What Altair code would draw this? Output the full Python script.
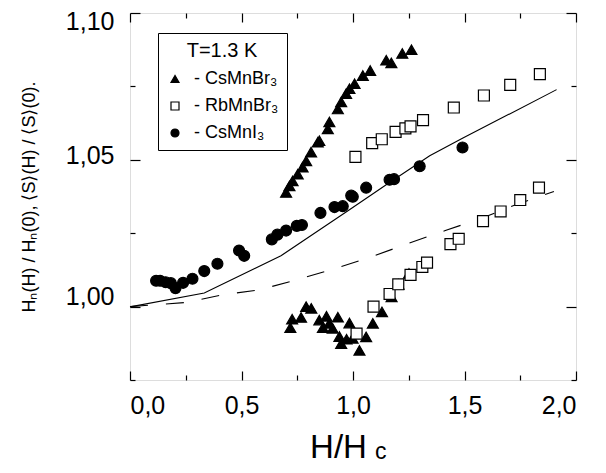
import altair as alt
import pandas as pd

FONT = "Liberation Sans"
W, H = 446, 367

series_names = ["CsMnBr₃", "RbMnBr₃", "CsMnI₃"]

# CsMnBr3 (upper branch + lower branch)
csbr_x = [0.700, 0.715, 0.729, 0.752, 0.774, 0.790, 0.812, 0.842, 0.849, 0.887, 0.894,
          0.932, 0.947, 0.969, 0.984, 1.007, 1.044, 1.077, 1.149, 1.172, 1.221, 1.262,
          0.719, 0.727, 0.767, 0.790, 0.813, 0.849, 0.865, 0.881, 0.894, 0.909, 0.932,
          0.939, 0.947, 0.971, 0.984, 0.998, 1.029, 1.059, 1.089, 1.130, 1.173, 1.204, 1.251]
csbr_y = [1.0389, 1.0411, 1.0428, 1.0451, 1.0475, 1.0496, 1.0526, 1.0560, 1.0565, 1.0605, 1.0629,
          1.0673, 1.0697, 1.0725, 1.0742, 1.0759, 1.0787, 1.0804, 1.0839, 1.0830, 1.0862, 1.0875,
          0.9928, 0.9957, 0.9963, 1.0000, 0.9994, 0.9954, 0.9928, 0.9967, 0.9943, 0.9926, 0.9964,
          0.9898, 0.9874, 0.9889, 0.9944, 0.9892, 0.9851, 0.9897, 0.9943, 0.9982, 1.0033, 1.0076, 1.0113]

# RbMnBr3 (upper branch + lower branch)
rbbr_x = [1.011, 1.086, 1.129, 1.191, 1.235, 1.258, 1.314, 1.452, 1.587, 1.705, 1.838,
          1.016, 1.092, 1.164, 1.203, 1.258, 1.311, 1.332, 1.437, 1.474, 1.583, 1.662, 1.750, 1.834]
rbbr_y = [1.0510, 1.0557, 1.0570, 1.0595, 1.0607, 1.0614, 1.0635, 1.0678, 1.0719, 1.0755, 1.0792,
          0.9908, 1.0000, 1.0043, 1.0076, 1.0108, 1.0135, 1.0150, 1.0213, 1.0231, 1.0291, 1.0324, 1.0363, 1.0405]

# CsMnI3
csi_x = [0.117, 0.135, 0.160, 0.183, 0.204, 0.238, 0.280, 0.333, 0.392, 0.489, 0.512, 0.636, 0.661,
         0.700, 0.748, 0.771, 0.854, 0.917, 0.954, 0.992, 0.999, 1.059, 1.164, 1.184, 1.299, 1.491]
csi_y = [1.0088, 1.0088, 1.0083, 1.0080, 1.0063, 1.0081, 1.0095, 1.0121, 1.0146, 1.0191, 1.0173, 1.0229, 1.0245,
         1.0259, 1.0275, 1.0278, 1.0319, 1.0339, 1.0342, 1.0378, 1.0374, 1.0405, 1.0432, 1.0434, 1.0478, 1.0542]

# theory curves
solid_x = [0.0, 0.333, 0.677, 0.939, 0.984, 1.149, 1.344, 1.493, 1.913]
solid_y = [0.9999, 1.0046, 1.0173, 1.0307, 1.0330, 1.0415, 1.0514, 1.0574, 1.0739]
dash_x = [0.0, 0.25, 0.415, 0.58, 0.76, 0.925, 1.088, 1.251, 1.414, 1.576, 1.741, 1.901]
dash_y = [1.0000, 1.0014, 1.0040, 1.0057, 1.0094, 1.0131, 1.0171, 1.0216, 1.0259, 1.0301, 1.0350, 1.0392]

x_major = [0.0, 0.5, 1.0, 1.5, 2.0]
x_ticks = [0.0, 0.25, 0.5, 0.75, 1.0, 1.25, 1.5, 1.75, 2.0]
y_major = [1.00, 1.05, 1.10]
y_ticks = [0.975, 1.0, 1.025, 1.05, 1.075, 1.10]

pts = pd.DataFrame({
    "x": csbr_x + rbbr_x + csi_x,
    "y": csbr_y + rbbr_y + csi_y,
    "series": [series_names[0]] * len(csbr_x) + [series_names[1]] * len(rbbr_x) + [series_names[2]] * len(csi_x),
})
solid_df = pd.DataFrame({"x": solid_x, "y": solid_y})
dash_df = pd.DataFrame({"x": dash_x, "y": dash_y})

xs = alt.Scale(domain=[0, 2], nice=False, zero=False)
ys = alt.Scale(domain=[0.975, 1.10], nice=False, zero=False)

x_tsize = {"condition": {"test": "round(datum.value*4) % 2 == 0", "value": 9}, "value": 5}
y_tsize = {"condition": {"test": "round(datum.value*40) % 2 == 0", "value": 10}, "value": 5}
y_loff = {"condition": [{"test": "datum.value > 1.09", "value": 8},
                        {"test": "datum.value > 1.04", "value": -4}], "value": -10}

x_lab_axis = alt.Axis(orient="bottom", values=x_major,
                      labelExpr="replace(format(datum.value, '.1f'), '.', ',')",
                      ticks=False, tickSize=0, domain=False, grid=False,
                      labelFont=FONT, labelFontSize=25, labelColor="black", labelPadding=13,
                      title="H/H", titleFont=FONT, titleFontSize=33, titleFontWeight="normal",
                      titleColor="black", titlePadding=13, titleX=208)
y_lab_axis = alt.Axis(orient="left", values=y_major,
                      labelExpr="replace(format(datum.value, '.2f'), '.', ',')",
                      ticks=False, tickSize=0, domain=False, grid=False,
                      labelFont=FONT, labelFontSize=25, labelColor="black", labelPadding=16,
                      labelOffset=y_loff, labelBaseline="middle",
                      title="Hₙ(H) / Hₙ(0), ⟨S⟩(H) / ⟨S⟩(0).", titleFont=FONT, titleFontSize=18,
                      titleFontWeight="normal", titleColor="black", titlePadding=27)


def tick_axis(orient, values, size, offset):
    return alt.Axis(orient=orient, values=values, offset=offset, labels=False, domain=False,
                    grid=False, title=None, ticks=True, tickSize=size, tickColor="black",
                    tickWidth=1.2)


legend = alt.Legend(title="T=1.3 K", orient="none", legendX=28, legendY=20,
                    strokeColor="black", fillColor="white", padding=8,
                    titleFont=FONT, titleFontSize=20, titleFontWeight="normal", titleColor="black",
                    titleAnchor="middle", titleAlign="center", titlePadding=9,
                    labelFont=FONT, labelFontSize=18, labelColor="black",
                    labelExpr="'- ' + datum.label", labelOffset=10,
                    symbolSize=64, symbolStrokeWidth=1.2, rowPadding=9)

points = alt.Chart(pts).mark_point(filled=True, size=120, strokeWidth=1.2, opacity=1).encode(
    x=alt.X("x:Q", scale=xs, axis=x_lab_axis),
    y=alt.Y("y:Q", scale=ys, axis=y_lab_axis),
    shape=alt.Shape("series:N", scale=alt.Scale(domain=series_names, range=["triangle-up", "square", "circle"]),
                    legend=legend),
    fill=alt.Fill("series:N", scale=alt.Scale(domain=series_names, range=["black", "white", "black"]),
                  legend=legend),
    stroke=alt.Stroke("series:N", scale=alt.Scale(domain=series_names, range=["black", "black", "black"]),
                      legend=legend),
)

solid = alt.Chart(solid_df).mark_line(color="black", strokeWidth=1.1).encode(
    x=alt.X("x:Q", scale=xs, axis=tick_axis("top", x_ticks, x_tsize, -H)),
    y=alt.Y("y:Q", scale=ys, axis=tick_axis("right", y_ticks, y_tsize, -W)),
)

dashed = alt.Chart(dash_df).mark_line(color="black", strokeWidth=1.1, strokeDash=[18, 18]).encode(
    x=alt.X("x:Q", scale=xs, axis=tick_axis("bottom", x_ticks, x_tsize, -H)),
    y=alt.Y("y:Q", scale=ys, axis=tick_axis("left", y_ticks, y_tsize, -W)),
)

sub_c = alt.Chart(pd.DataFrame({"t": ["c"]})).mark_text(
    font=FONT, fontSize=23, align="left", baseline="alphabetic", color="black"
).encode(x=alt.value(245), y=alt.value(446), text="t:N")

chart = alt.layer(solid, dashed, points, sub_c).resolve_axis(
    x="independent", y="independent"
).properties(
    width=W, height=H,
    autosize=alt.AutoSizeParams(type="none"),
    padding={"left": 122, "top": 5, "right": 22, "bottom": 85},
).configure_view(stroke="#111", strokeWidth=1.5).configure(background="white")

chart.save("out.html", embed_options={"renderer": "svg", "actions": False})
